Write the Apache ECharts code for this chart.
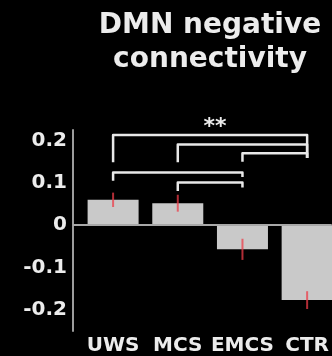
<!DOCTYPE html>
<html>
<head>
<meta charset="utf-8">
<script src="https://cdn.jsdelivr.net/npm/echarts@6/dist/echarts.min.js"></script>
<style>
  html, body { margin: 0; padding: 0; background: #000; }
  #chart { width: 332px; height: 356px; }
</style>
</head>
<body>
<div id="chart"></div>
<script>
// Group labels and mean connectivity per group
const categories = ['UWS', 'MCS', 'EMCS', 'CTR'];
const means = [0.060, 0.052, -0.057, -0.177];
const errors = [0.017, 0.020, 0.025, 0.021];

// Y tick labels
const yTicks = [-0.2, -0.1, 0, 0.1, 0.2];

// Pairwise comparison brackets (group indices and heights in data units)
const bracketFrom = [0, 1, 2, 0, 1];
const bracketTo = [3, 3, 3, 2, 2];
const bracketTop = [0.213, 0.191, 0.170, 0.1245, 0.101];
const bracketLeftFoot = [0.149, 0.149, 0.150, 0.105, 0.081];
const bracketRightFoot = [0.159, 0.159, 0.159, 0.114, 0.089];
const significance = '**';

const textColor = '#ececec';
const font = 'DejaVu Sans';

const barData = means.map((v, i) => [i, v]);
const errData = means.map((v, i) => [i, v, errors[i]]);
const bracketData = bracketFrom.map((a, i) =>
  [a, bracketTo[i], bracketTop[i], bracketLeftFoot[i], bracketRightFoot[i]]);

const chart = echarts.init(document.getElementById('chart'), null, { renderer: 'canvas' });

chart.setOption({
  backgroundColor: '#000',
  animation: false,
  title: [
    {
      text: 'DMN negative\nconnectivity',
      left: 205,
      top: 4,
      textAlign: 'center',
      textStyle: {
        color: textColor,
        fontFamily: font,
        fontWeight: 'bold',
        fontSize: 28,
        lineHeight: 34
      }
    },
    {
      text: significance,
      left: 210,
      top: 111,
      textAlign: 'center',
      textStyle: {
        color: textColor,
        fontFamily: font,
        fontWeight: 'bold',
        fontSize: 22
      }
    }
  ],
  grid: { left: 73, right: 0, top: 130, bottom: 24, containLabel: false },
  xAxis: {
    type: 'value',
    min: -0.62,
    max: 3.38,
    axisLine: { show: false },
    axisTick: { show: false },
    splitLine: { show: false },
    axisLabel: {
      customValues: [0, 1, 2, 3],
      formatter: v => categories[Math.round(v)] || '',
      color: textColor,
      fontFamily: font,
      fontWeight: 'bold',
      fontSize: 20,
      margin: 5
    }
  },
  yAxis: {
    type: 'value',
    min: -0.25,
    max: 0.225,
    axisLine: { show: true, onZero: false, lineStyle: { color: '#9c9c9c', width: 2 } },
    axisTick: { show: false },
    splitLine: { show: false },
    axisLabel: {
      customValues: yTicks,
      formatter: v => (Math.abs(v) < 1e-9 ? '0' : v.toFixed(1)),
      color: textColor,
      fontFamily: font,
      fontWeight: 'bold',
      fontSize: 20,
      margin: 6
    }
  },
  series: [
    {
      type: 'bar',
      data: barData,
      barWidth: 51,
      itemStyle: { color: '#c9c9c9' },
      markLine: {
        silent: true,
        symbol: 'none',
        label: { show: false },
        lineStyle: { color: '#a8a8a8', width: 2, type: 'solid' },
        data: [{ yAxis: 0 }]
      }
    },
    {
      type: 'custom',
      data: errData,
      z: 5,
      renderItem: (params, api) => {
        const x = api.value(0), v = api.value(1), e = api.value(2);
        const p1 = api.coord([x, v + e]);
        const p2 = api.coord([x, v - e]);
        return {
          type: 'line',
          shape: { x1: p1[0], y1: p1[1], x2: p2[0], y2: p2[1] },
          style: { stroke: 'rgba(236, 60, 72, 0.75)', lineWidth: 2 }
        };
      }
    },
    {
      type: 'custom',
      data: bracketData,
      z: 6,
      renderItem: (params, api) => {
        const a = api.value(0), b = api.value(1);
        const top = api.value(2), lf = api.value(3), rf = api.value(4);
        const pts = [
          api.coord([a, lf]),
          api.coord([a, top]),
          api.coord([b, top]),
          api.coord([b, rf])
        ];
        return {
          type: 'polyline',
          shape: { points: pts },
          style: { stroke: '#e8e8e8', lineWidth: 2.5, fill: null, lineJoin: 'round' }
        };
      }
    }
  ]
});
</script>
</body>
</html>
